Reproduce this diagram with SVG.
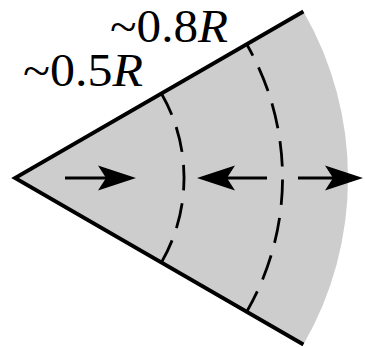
<svg xmlns="http://www.w3.org/2000/svg" width="365" height="347" viewBox="0 0 365 347">
  <style>
    .edge { fill: none; stroke: #000; stroke-width: 3.8; stroke-linejoin: miter; stroke-miterlimit: 10; }
    .dash { fill: none; stroke: #000; stroke-width: 2.8; }
    .arrow { fill: none; stroke: #000; stroke-width: 3; }
    .lbl { font-family: "Liberation Serif", "Times New Roman", serif; font-size: 46px; fill: #000; }
    .it { font-style: italic; }
  </style>
  <defs>
    <marker id="head" markerUnits="userSpaceOnUse" markerWidth="40" markerHeight="30" viewBox="0 -15 40 30" refX="8" refY="0" orient="auto" overflow="visible">
      <path d="M0,-12.5 L38,0 L0,12.5 L8,0 Z" fill="#000"/>
    </marker>
  </defs>
  <g id="wedge">
    <path d="M15,178 L303.4,11.5 A333,333 0 0,1 303.4,344.5 Z" fill="#cdcdcd"/>
    <polyline class="edge" points="303.4,11.5 15,178 303.4,344.5"/>
  </g>
  <g id="arcs">
    <path class="dash" d="M161.4,93.5 A169,169 0 0,1 161.4,262.5" stroke-dasharray="25.5 13" stroke-dashoffset="1.75"/>
    <path class="dash" d="M246.7,44.25 A267.5,267.5 0 0,1 246.7,311.75" stroke-dasharray="25.5 13" stroke-dashoffset="12.5"/>
  </g>
  <g id="connectors">
    <line class="arrow" x1="65" y1="178" x2="106" y2="178" marker-end="url(#head)"/>
    <line class="arrow" x1="267" y1="178" x2="227" y2="178" marker-end="url(#head)"/>
    <line class="arrow" x1="298" y1="178" x2="333" y2="178" marker-end="url(#head)"/>
  </g>
  <g id="labels">
    <text class="lbl" x="110" y="42" textLength="118" lengthAdjust="spacingAndGlyphs">~0.8<tspan class="it">R</tspan></text>
    <text class="lbl" x="23" y="86" textLength="120" lengthAdjust="spacingAndGlyphs">~0.5<tspan class="it">R</tspan></text>
  </g>
</svg>
